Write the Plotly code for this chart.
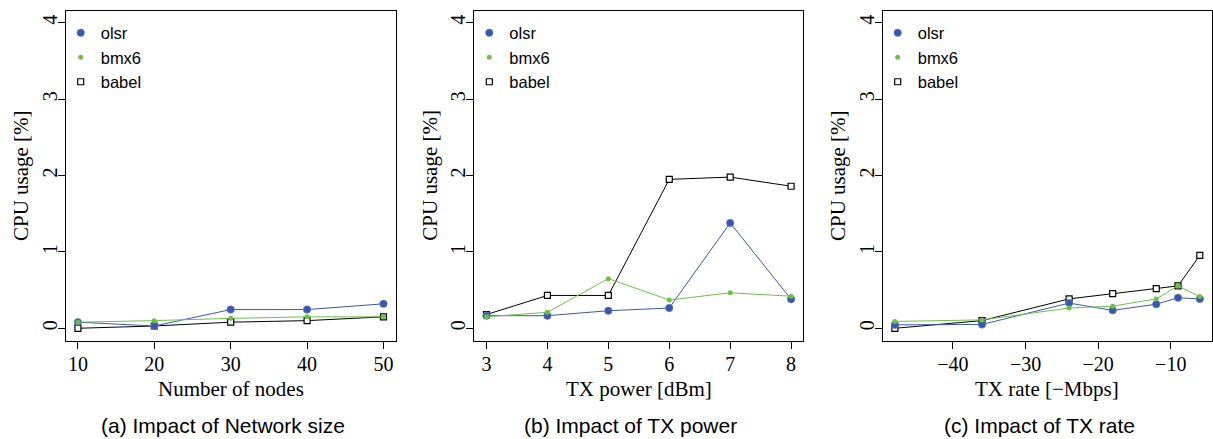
import plotly.graph_objects as go

W, H = 1213, 439

# ---- data ----
nodes = [10, 20, 30, 40, 50]
olsr_a = [0.08, 0.03, 0.245, 0.245, 0.32]
bmx6_a = [0.08, 0.10, 0.13, 0.15, 0.15]
babel_a = [0.00, 0.03, 0.08, 0.10, 0.15]

txpower = [3, 4, 5, 6, 7, 8]
olsr_b = [0.165, 0.165, 0.23, 0.265, 1.38, 0.38]
bmx6_b = [0.15, 0.21, 0.65, 0.37, 0.465, 0.42]
babel_b = [0.18, 0.43, 0.43, 1.95, 1.98, 1.86]

txrate = [-48, -36, -24, -18, -12, -9, -6]
olsr_c = [0.045, 0.05, 0.33, 0.235, 0.315, 0.40, 0.385]
bmx6_c = [0.09, 0.11, 0.265, 0.29, 0.385, 0.555, 0.415]
babel_c = [0.00, 0.10, 0.385, 0.455, 0.52, 0.555, 0.955]

y_ticks = [0, 1, 2, 3, 4]
c_ticks = [-40, -30, -20, -10]
c_ticklabels = ["\u221240", "\u221230", "\u221220", "\u221210"]

x_titles = ["Number of nodes", "TX power [dBm]", "TX rate [\u2212Mbps]"]
captions = ["(a) Impact of Network size", "(b) Impact of TX power", "(c) Impact of TX rate"]
y_title = "CPU usage [%]"

BLUE = "#3b57a8"
GREEN = "#6cc04a"
BLACK = "#000000"

SERIF = "Liberation Serif, Times New Roman, serif"
SANS = "Liberation Sans, Arial, sans-serif"

# ---- layout geometry (pixels) ----
boxes = [(65.7, 395.7), (474.3, 803.3), (882.7, 1212.0)]
ytop, ybot = 10.6, 340.5

series_style = {
    "olsr": dict(line=dict(color=BLUE, width=1),
                 marker=dict(symbol="circle", size=7.5, color=BLUE, line=dict(color="#6f86c4", width=0.6)),
                 rank=1),
    "bmx6": dict(line=dict(color=GREEN, width=1),
                 marker=dict(symbol="circle", size=5, color=GREEN, line=dict(width=0)),
                 rank=2),
    "babel": dict(line=dict(color=BLACK, width=1),
                  marker=dict(symbol="square", size=6, color="white", line=dict(color=BLACK, width=1.2)),
                  rank=3),
}

fig = go.Figure()

panels = [
    dict(x=nodes, babel=babel_a, olsr=olsr_a, bmx6=bmx6_a),
    dict(x=txpower, babel=babel_b, olsr=olsr_b, bmx6=bmx6_b),
    dict(x=txrate, babel=babel_c, olsr=olsr_c, bmx6=bmx6_c),
]

for i, p in enumerate(panels):
    ax = "" if i == 0 else str(i + 1)
    lg = "legend" if i == 0 else "legend" + str(i + 1)
    for name in ["babel", "olsr", "bmx6"]:
        st = series_style[name]
        fig.add_trace(go.Scatter(
            x=p["x"], y=p[name], mode="lines+markers", name=name,
            line=st["line"], marker=st["marker"],
            xaxis="x" + ax, yaxis="y" + ax, showlegend=False))
    # legend entries (markers only, as in the reference)
    for name in ["olsr", "bmx6", "babel"]:
        st = series_style[name]
        fig.add_trace(go.Scatter(
            x=[None], y=[None], mode="markers", name=name, marker=st["marker"],
            xaxis="x" + ax, yaxis="y" + ax, legend=lg, legendrank=st["rank"],
            showlegend=True))

axis_common = dict(
    showline=True, mirror=True, linecolor="black", linewidth=1,
    ticks="outside", ticklen=7, tickwidth=1, tickcolor="black",
    showgrid=False, zeroline=False, automargin=False,
    tickfont=dict(family=SERIF, size=20, color="black"),
)

layout = dict(
    width=W, height=H,
    margin=dict(l=0, r=0, t=0, b=0),
    paper_bgcolor="white", plot_bgcolor="white",
    showlegend=True,
    annotations=[],
)

xranges = [[8.4, 51.6], [2.8, 8.2], [-49.68, -4.32]]
xtickvals = [nodes, txpower, c_ticks]
xticktext = [[str(v) for v in nodes], [str(v) for v in txpower], c_ticklabels]

for i in range(3):
    ax = "" if i == 0 else str(i + 1)
    x0, x1 = boxes[i]
    layout["xaxis" + ax] = dict(
        axis_common, domain=[x0 / W, x1 / W], range=xranges[i],
        tickvals=xtickvals[i], ticktext=xticktext[i],
        ticklabelstandoff=-2,
        anchor="y" + ax)
    layout["yaxis" + ax] = dict(
        axis_common, domain=[(H - ybot) / H, (H - ytop) / H], range=[-0.16, 4.16],
        tickvals=y_ticks, ticktext=[str(v) for v in y_ticks], tickangle=-90,
        ticklabelstandoff=-7,
        anchor="x" + ax)
    lg = "legend" if i == 0 else "legend" + str(i + 1)
    layout[lg] = dict(
        x=(x0 - 5) / W, y=(H - ytop - 5) / H, xanchor="left", yanchor="top",
        bgcolor="rgba(0,0,0,0)", borderwidth=0,
        font=dict(family=SANS, size=16.5, color="black"),
        traceorder="normal", itemsizing="trace")
    cx = (x0 + x1) / 2
    layout["annotations"].append(dict(
        text=x_titles[i], x=cx / W, y=(H - 389) / H, xref="paper", yref="paper",
        showarrow=False, xanchor="center", yanchor="middle",
        font=dict(family=SERIF, size=21, color="black")))
    layout["annotations"].append(dict(
        text=y_title, x=(x0 - 45.2) / W, y=(H - (ytop + ybot) / 2) / H,
        xref="paper", yref="paper", showarrow=False, textangle=-90,
        xanchor="center", yanchor="middle",
        font=dict(family=SERIF, size=21, color="black")))
    layout["annotations"].append(dict(
        text=captions[i], x=(cx - 8) / W, y=(H - 425) / H, xref="paper", yref="paper",
        showarrow=False, xanchor="center", yanchor="middle",
        font=dict(family=SANS, size=21, color="black")))

fig.update_layout(**layout)
fig.write_html(
    "out.html",
    config={"displayModeBar": False},
    post_script="document.body.style.margin='0px';document.body.style.overflow='hidden';",
)
